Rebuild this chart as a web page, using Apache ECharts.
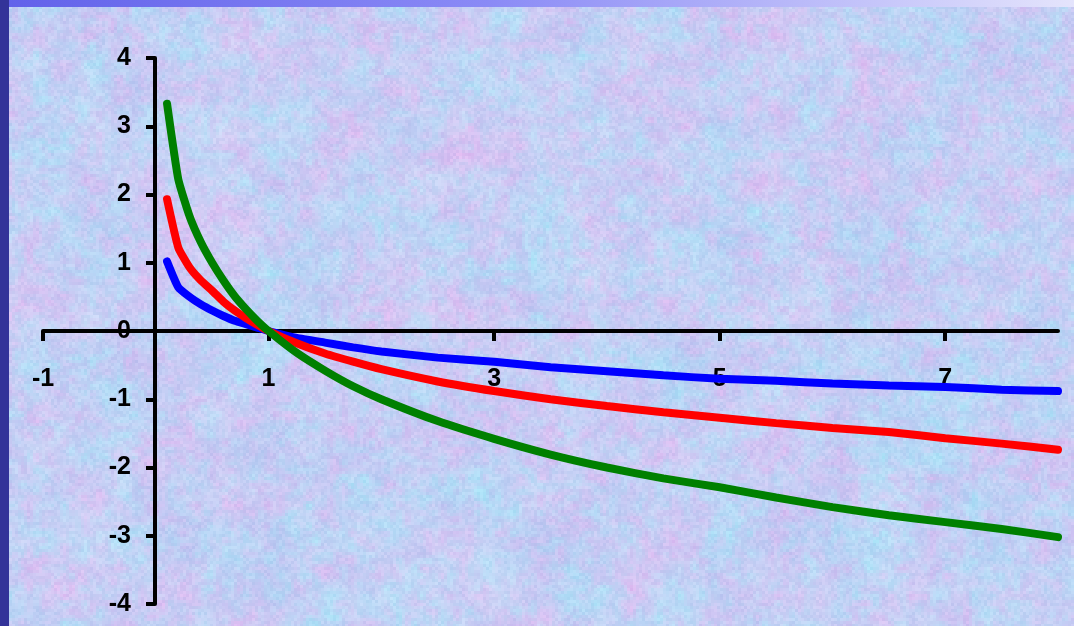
<!DOCTYPE html>
<html>
<head>
<meta charset="utf-8">
<script src="https://cdn.jsdelivr.net/npm/echarts@6/dist/echarts.min.js"></script>
<style>
    html, body { margin: 0; padding: 0; width: 1074px; height: 626px; overflow: hidden; background: #c6d0f2; }
    #wrap { position: relative; width: 1074px; height: 626px; }
    #bg { position: absolute; left: 0; top: 0; }
    #leftbar { position: absolute; left: 0; top: 0; width: 9px; height: 626px; background: #333399; }
    #topbar { position: absolute; left: 9px; top: 0; right: 0; height: 7px; background: linear-gradient(to right, #6262ea, #8a8af6 45%, #e4e4fc); }
    #main { position: absolute; left: 0; top: 0; width: 1074px; height: 626px; }
</style>
</head>
<body>
<div id="wrap">
    <canvas id="bg" width="1074" height="626"></canvas>
    <div id="leftbar"></div>
    <div id="topbar"></div>
    <div id="main"></div>
</div>
<script>
// x values and the three curves
var xs = [0.1, 0.2, 0.3, 0.4, 0.5, 0.6, 0.7, 0.8, 0.9, 1, 1.25, 1.5, 1.75, 2, 2.5, 3, 3.5, 4, 4.5, 5, 5.5, 6, 6.5, 7, 7.5, 8]
var blueVals = [1.02, 0.64, 0.50, 0.39, 0.30, 0.22, 0.15, 0.10, 0.05, 0, -0.10, -0.17, -0.24, -0.30, -0.39, -0.45, -0.53, -0.59, -0.65, -0.70, -0.73, -0.77, -0.80, -0.82, -0.86, -0.88]
var redVals = [1.93, 1.22, 0.93, 0.74, 0.59, 0.43, 0.30, 0.19, 0.09, 0, -0.18, -0.33, -0.45, -0.56, -0.74, -0.88, -1.00, -1.10, -1.19, -1.27, -1.35, -1.42, -1.48, -1.57, -1.65, -1.74]
var greenVals = [3.33, 2.22, 1.68, 1.30, 1.00, 0.74, 0.51, 0.32, 0.15, 0, -0.32, -0.58, -0.81, -1.00, -1.32, -1.58, -1.81, -2.00, -2.16, -2.29, -2.44, -2.58, -2.70, -2.80, -2.90, -3.02]
var xTicks = [-1, 1, 3, 5, 7]

function pairs(vals) {
    var out = []
    for (var i = 0; i < xs.length; i++) out.push([xs[i], vals[i]])
    return out
}

// marbled paper texture behind the chart (decoration only)
function hash(i, j, s) {
    var n = Math.imul(i, 374761393) + Math.imul(j, 668265263) + Math.imul(s, 1442695041)
    n = Math.imul(n ^ (n >>> 13), 1274126177)
    n = n ^ (n >>> 16)
    return (n >>> 0) / 4294967295
}
function noise(x, y, cell, s) {
    var gx = Math.floor(x / cell), gy = Math.floor(y / cell)
    var fx = x / cell - gx, fy = y / cell - gy
    fx = fx * fx * (3 - 2 * fx); fy = fy * fy * (3 - 2 * fy)
    var a = hash(gx, gy, s), b = hash(gx + 1, gy, s), c = hash(gx, gy + 1, s), d = hash(gx + 1, gy + 1, s)
    return (a * (1 - fx) + b * fx) * (1 - fy) + (c * (1 - fx) + d * fx) * fy
}
function drawTexture() {
    var cv = document.getElementById('bg')
    var ctx = cv.getContext('2d')
    var blk = 3
    for (var y = 0; y < 626; y += blk) {
        for (var x = 0; x < 1074; x += blk) {
            var p = noise(x, y, 45, 1) * 0.5 + noise(x, y, 9, 2) * 0.5   // pink vs blue
            var c = noise(x, y, 30, 3) * 0.5 + noise(x, y, 7, 4) * 0.5   // cyan amount
            var j = hash(x, y, 5) - 0.5
            var r = 196 + (p - 0.5) * 44 - (c - 0.5) * 26 + j * 18
            var g = 206 + (c - 0.5) * 42 - (p - 0.5) * 12 + j * 12
            var bl = 244 + (c - 0.5) * 8 + j * 8
            ctx.fillStyle = 'rgb(' + Math.round(r) + ',' + Math.round(g) + ',' + Math.round(Math.min(255, bl)) + ')'
            ctx.fillRect(x, y, blk, blk)
        }
    }
}
drawTexture()

var labelFont = { color: '#000', fontSize: 25, fontWeight: 'bold', fontFamily: '"Liberation Sans", Arial, sans-serif' }

var chart = echarts.init(document.getElementById('main'))
var option = {
    backgroundColor: 'transparent',
    animation: false,
    grid: { left: 43, right: 16, top: 58, bottom: 22, containLabel: false, outerBoundsMode: 'none' },
    xAxis: {
        type: 'value',
        min: -1,
        max: 8,
        position: 'bottom',
        offset: -273,
        axisLine: { show: true, onZero: false, lineStyle: { color: '#000', width: 4 } },
        axisTick: { show: true, length: 10, customValues: xTicks, lineStyle: { color: '#000', width: 4 } },
        axisLabel: Object.assign({ customValues: xTicks, margin: 36 }, labelFont),
        splitLine: { show: false }
    },
    yAxis: {
        type: 'value',
        min: -4,
        max: 4,
        interval: 1,
        position: 'left',
        offset: -112,
        axisLine: { show: true, onZero: false, lineStyle: { color: '#000', width: 4 } },
        axisTick: { show: true, length: 9, lineStyle: { color: '#000', width: 4 } },
        axisLabel: Object.assign({ margin: 24 }, labelFont),
        splitLine: { show: false }
    },
    series: [
        { type: 'line', data: pairs(blueVals), symbol: 'none', smooth: 0.15, lineStyle: { color: '#0000ff', width: 8, cap: 'round' } },
        { type: 'line', data: pairs(redVals), symbol: 'none', smooth: 0.15, lineStyle: { color: '#ff0000', width: 8, cap: 'round' } },
        { type: 'line', data: pairs(greenVals), symbol: 'none', smooth: 0.15, lineStyle: { color: '#008000', width: 8, cap: 'round' } }
    ]
}
chart.setOption(option)
</script>
</body>
</html>
